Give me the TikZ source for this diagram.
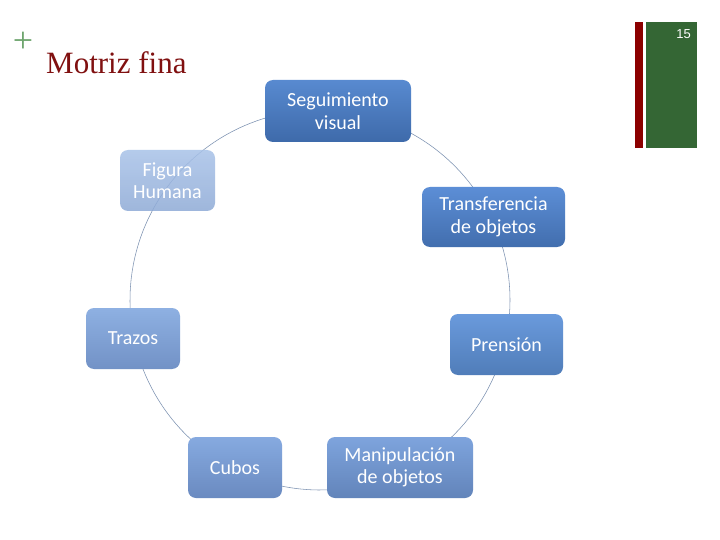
\documentclass[tikz,border=0pt]{standalone}
\usepackage{fontspec}
\setmainfont{Carlito}
\newfontfamily\titlefont{Liberation Serif}
\newfontfamily\numfont{Liberation Sans}
\begin{document}
\begin{tikzpicture}[x=1pt,y=1pt,
  cbox/.style={rounded corners=8pt, minimum width=#1, minimum height=61pt, inner sep=0pt,
    align=center, text=white, font=\fontsize{20}{22.5}\selectfont},
  ring/.style={draw={rgb,255:red,125;green,146;blue,178}, line width=0.55pt},
]
\definecolor{titlered}{RGB}{128,16,16}
\definecolor{plusgreen}{RGB}{110,165,110}
\definecolor{barred}{RGB}{140,0,0}
\definecolor{bargreen}{RGB}{52,102,52}
\useasboundingbox (0,0) rectangle (720,-540);
\fill[white] (0,0) rectangle (720,-540);

% header
\node[anchor=center, text=plusgreen, font=\titlefont\fontsize{36}{36}\selectfont, inner sep=0pt] (plus) at (23,-42) {+};
\node[anchor=base west, text=titlered, font=\titlefont\fontsize{31}{31}\selectfont, inner sep=0pt] (title) at (46,-74) {Motriz fina};
\fill[barred] (635,-22) rectangle (643,-148);
\fill[bargreen] (646,-22) rectangle (697,-148);
\node[anchor=north east, text=white, font=\numfont\fontsize{13}{13}\selectfont, inner sep=0pt] (num) at (691,-29) {15};

% ring
\coordinate (C) at (320,-300);
\draw[ring] (C) ++(84.6:190) arc[start angle=84.6, end angle=142, radius=190];
\draw[ring] (C) ++(142:190) arc[start angle=142, end angle=191.5, radius=190];
\draw[ring] (C) ++(191.5:190) arc[start angle=191.5, end angle=243, radius=190];
\draw[ring] (C) ++(243:190) arc[start angle=243, end angle=295.6, radius=190];
\draw[ring] (C) ++(295.6:190) arc[start angle=295.6, end angle=346.4, radius=190];
\draw[ring] (C) ++(-13.6:190) arc[start angle=-13.6, end angle=25.6, radius=190];
\draw[ring] (C) ++(25.6:190) arc[start angle=25.6, end angle=84.6, radius=190];

% boxes
\node[cbox=146pt, minimum height=62pt, top color={rgb,255:red,88;green,138;blue,208}, bottom color={rgb,255:red,62;green,106;blue,170}] (seg) at (338,-111) {Seguimiento\\visual};
\node[cbox=143pt, minimum height=60pt, top color={rgb,255:red,92;green,142;blue,214}, bottom color={rgb,255:red,66;green,110;blue,174}] (trans) at (493.5,-217) {Transferencia\\de objetos};
\node[cbox=113pt, top color={rgb,255:red,106;green,154;blue,220}, bottom color={rgb,255:red,80;green,125;blue,185}] (pren) at (506.5,-344.5) {Prensión};
\node[cbox=146pt, top color={rgb,255:red,126;green,164;blue,221}, bottom color={rgb,255:red,98;green,132;blue,186}] (manip) at (400,-467.5) {Manipulación\\de objetos};
\node[cbox=94pt, top color={rgb,255:red,134;green,170;blue,224}, bottom color={rgb,255:red,106;green,138;blue,192}] (cubos) at (235,-467.5) {Cubos};
\node[cbox=94pt, top color={rgb,255:red,142;green,176;blue,226}, bottom color={rgb,255:red,114;green,146;blue,198}] (trazos) at (133,-338.5) {Trazos};
\node[cbox=95pt, fill opacity=0.85, text opacity=1, top color={rgb,255:red,168;green,194;blue,232}, bottom color={rgb,255:red,142;green,170;blue,214}] (fig) at (167.5,-180.5) {Figura\\Humana};
\end{tikzpicture}
\end{document}
